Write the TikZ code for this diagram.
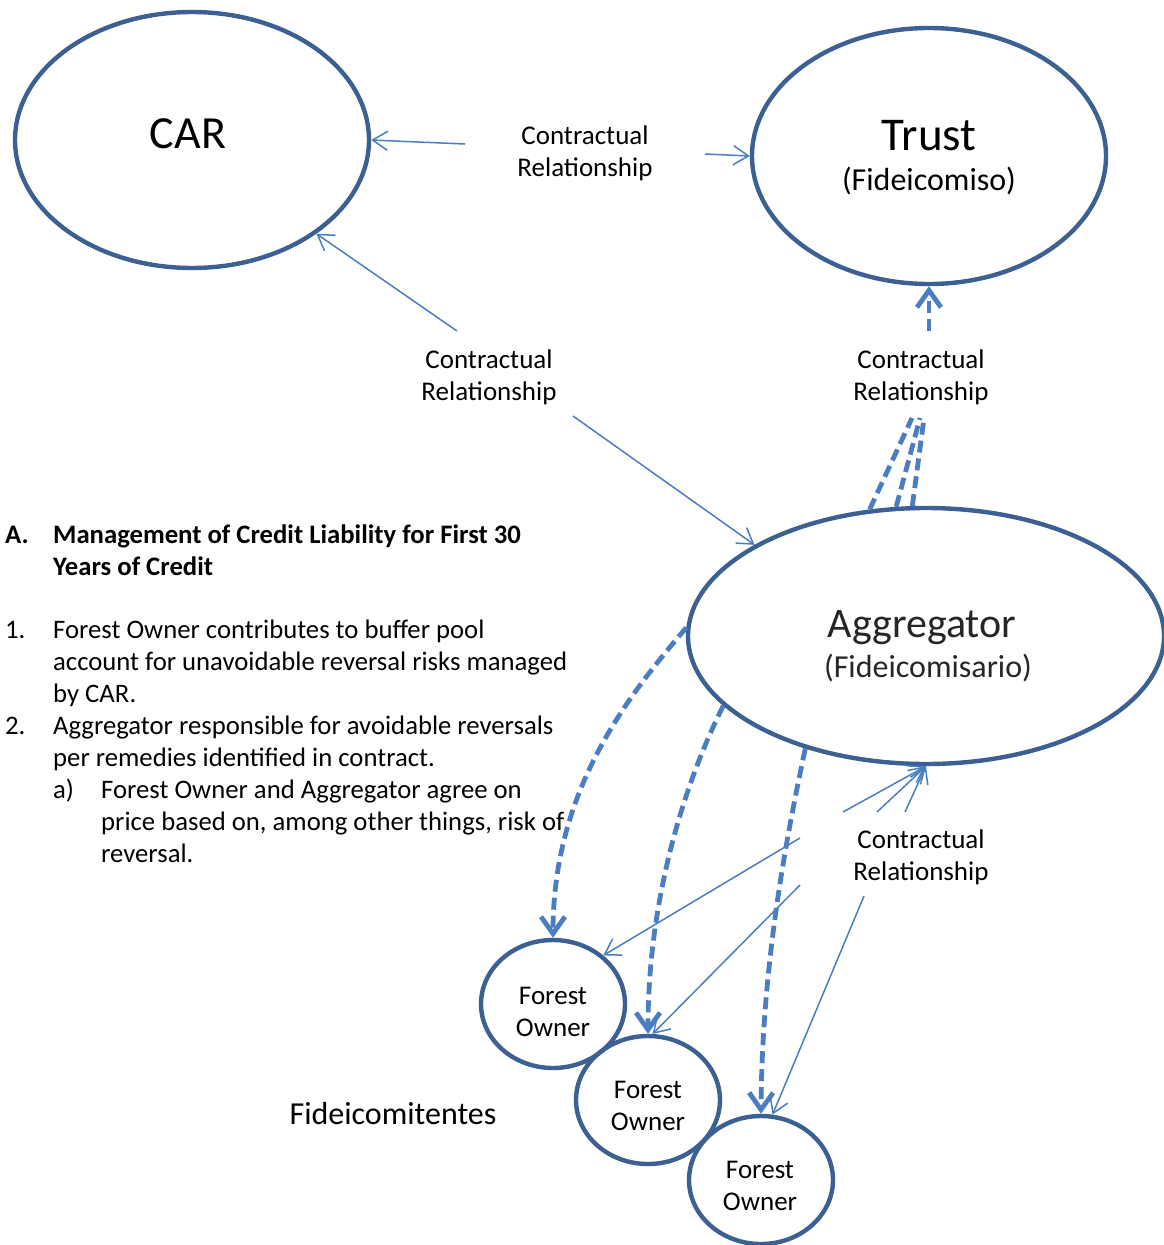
\documentclass[tikz,border=0pt]{standalone}
\usepackage{fontspec}
\setmainfont{Carlito}
\usetikzlibrary{shapes.geometric,arrows.meta}
\definecolor{ellcol}{RGB}{59,96,145}
\definecolor{arrcol}{RGB}{74,126,193}
\begin{document}
\begin{tikzpicture}[x=1pt,y=-1pt,
 ell/.style={draw=ellcol,line width=4.4pt,ellipse,inner sep=0pt},
 thinarr/.style={draw=arrcol,line width=1.5pt,-{Straight Barb[length=15pt,width=19pt]}},
 thickdash/.style={draw=arrcol,line width=4.8pt,dash pattern=on 12pt off 6pt},
 thickarr/.style={thickdash,-{Straight Barb[length=17pt,width=24pt]}},
 lbl/.style={align=center,font=\fontsize{27}{32}\selectfont,inner sep=0pt},
 body/.style={anchor=base west,font=\fontsize{26.7}{32}\selectfont,inner sep=0pt},
 bodyb/.style={body,font=\fontsize{26.7}{32}\selectfont\bfseries},
]
\useasboundingbox[fill=white] (0,0) rectangle (1163,1245);

% ellipses
\node[ell,minimum width=354pt,minimum height=256pt] (car) at (192,140) {};
\node[ell,minimum width=354pt,minimum height=256pt] (trust) at (929,156) {};
\node[ell,minimum width=476pt,minimum height=256pt] (agg) at (926,636) {};
\node[ell,minimum width=144pt,minimum height=128pt] (fo1) at (553,1004) {};
\node[ell,minimum width=144pt,minimum height=128pt] (fo2) at (648,1100) {};
\node[ell,minimum width=144pt,minimum height=128pt] (fo3) at (761,1180) {};

% texts inside
\node[anchor=base,inner sep=0pt,font=\fontsize{46}{50}\selectfont] (cartxt) at (188,148) {CAR};
\node[anchor=base,inner sep=0pt,font=\fontsize{47}{50}\selectfont] (trusttxt) at (929,150) {Trust};
\node[anchor=base,inner sep=0pt,font=\fontsize{32}{36}\selectfont] (trustsub) at (929,190) {(Fideicomiso)};
\node[anchor=base,inner sep=0pt,font=\fontsize{42}{46}\selectfont,text=black!85] (aggtxt) at (922,637) {Aggregator};
\node[anchor=base,inner sep=0pt,font=\fontsize{32}{36}\selectfont,text=black!85] (aggsub) at (928,677) {(Fideicomisario)};
\node[lbl] (fo1txt) at (553,1012) {Forest\\Owner};
\node[lbl] (fo2txt) at (648,1106) {Forest\\Owner};
\node[lbl] (fo3txt) at (760,1186) {Forest\\Owner};
\node[anchor=base,inner sep=0pt,font=\fontsize{32}{36}\selectfont] (fidei) at (393,1124) {Fideicomitentes};

% relationship labels
\node[lbl] (l1) at (585,153) {Contractual\\Relationship};
\node[lbl] (l2) at (489,377) {Contractual\\Relationship};
\node[lbl] (l3) at (921,377) {Contractual\\Relationship};
\node[lbl] (l4) at (921,857) {Contractual\\Relationship};

% free ends
\coordinate (a1) at (465,144);
\coordinate (a2) at (705,154);
\coordinate (a3) at (457,331);
\coordinate (a4) at (573,416);
\coordinate (d0) at (929,331);
\coordinate (d1) at (912,418);
\coordinate (d2) at (920,418);
\coordinate (d3) at (924,418);
\coordinate (b1) at (843,812);
\coordinate (b2) at (877,812);
\coordinate (b3) at (905,812);
\coordinate (c1) at (800,838);
\coordinate (c2) at (800,885);
\coordinate (c3) at (864,896);

% thin arrows
\draw[thinarr] (a1) -- (car.east);
\draw[thinarr] (a2) -- (trust.west);
\draw[thinarr] (a3) -- (car.-37);
\draw[thinarr] (a4) -- (agg.152);
\draw[thinarr] (b1) -- (agg.south);
\draw[thinarr] (b2) -- (agg.south);
\draw[thinarr] (b3) -- (agg.south);
\draw[thinarr] (c1) -- (fo1.44);
\draw[thinarr] (c2) -- (fo2.86);
\draw[thinarr] (c3) -- (fo3.80);

% thick dashed
\draw[thickarr] (d0) -- (trust.south);
\draw[thickdash] (agg.114) -- (d1);
\draw[thickdash] (agg.103) -- (d2);
\draw[thickdash] (agg.96) -- (d3);
\draw[thickarr] (agg.178) .. controls (628,696) and (553,790) .. (fo1.north);
\draw[thickarr] (agg.199) .. controls (684,784) and (648,900) .. (fo2.north);
\draw[thickarr] (agg.223.5) .. controls (788,830) and (762,960) .. (fo3.north);

% text block
\node[bodyb] (tA) at (5,543) {A.};
\node[bodyb] (tA1) at (53,543) {Management of Credit Liability for First 30};
\node[bodyb] (tA2) at (53,575) {Years of Credit};
\node[body] (n1) at (5,638) {1.};
\node[body] (n1a) at (53,638) {Forest Owner contributes to buffer pool};
\node[body] (n1b) at (53,670) {account for unavoidable reversal risks managed};
\node[body] (n1c) at (53,702) {by CAR.};
\node[body] (n2) at (5,734) {2.};
\node[body] (n2a) at (53,734) {Aggregator responsible for avoidable reversals};
\node[body] (n2b) at (53,766) {per remedies identified in contract.};
\node[body] (na) at (53,798) {a)};
\node[body] (naa) at (101,798) {Forest Owner and Aggregator agree on};
\node[body] (nab) at (101,830) {price based on, among other things, risk of};
\node[body] (nac) at (101,862) {reversal.};
\end{tikzpicture}
\end{document}
